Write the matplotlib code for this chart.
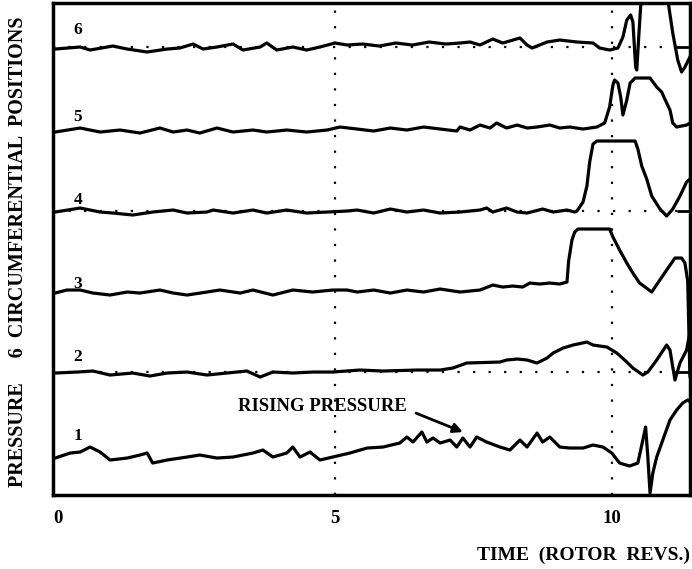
import matplotlib.pyplot as plt

plt.rcParams['font.family'] = ['Liberation Serif', 'DejaVu Serif']

# Pressure traces: time in rotor revs, pressure in
# arbitrary units relative to each trace's own baseline
rev1 = [-0.05, 0.22, 0.40, 0.58, 0.76, 0.94, 1.25, 1.48, 1.61, 1.71, 1.97, 2.33, 2.56, 2.87,
        3.16, 3.52, 3.70, 3.88, 4.13, 4.24, 4.37, 4.55, 4.73, 4.96, 5.27, 5.58, 5.87, 6.17,
        6.30, 6.41, 6.57, 6.66, 6.77, 6.90, 7.08, 7.20, 7.31, 7.44, 7.56, 7.74, 7.98, 8.16,
        8.34, 8.47, 8.65, 8.75, 8.88, 9.06, 9.24, 9.48, 9.66, 9.84, 10.00, 10.14, 10.32,
        10.47, 10.56, 10.61, 10.65, 10.69, 10.74, 10.81, 10.92, 11.05, 11.17, 11.28, 11.37, 11.44]
p1 = [-3, 2, 3, 8, 3, -5, -3, 0, 2, -8, -5, -2, 0, -3,
      -2, 2, 5, -2, 2, 8, -2, 3, -5, -2, 2, 7, 8, 12,
      18, 13, 23, 13, 17, 12, 15, 8, 17, 8, 18, 13, 8, 5,
      15, 8, 22, 13, 18, 8, 7, 7, 10, 8, 2, -8, -11,
      -8, 15, 28, -2, -38, -18, -2, 15, 35, 45, 52, 55, 52]

rev2 = [-0.05, 0.35, 0.63, 0.94, 1.35, 1.66, 1.97, 2.33, 2.69, 3.05, 3.41, 3.65, 3.88, 4.24,
        4.60, 4.96, 5.45, 5.87, 6.48, 6.90, 7.13, 7.38, 7.98, 8.10, 8.29, 8.47, 8.65, 8.83,
        8.94, 9.12, 9.30, 9.55, 9.66, 9.91, 10.09, 10.27, 10.38, 10.56, 10.65, 10.81, 10.99,
        11.05, 11.10, 11.14, 11.23, 11.35, 11.41]
p2 = [-1, 0, 1, -3, -1, -4, -1, 0, -3, -1, 1, -5, 0, -1,
      0, 0, 2, 1, 2, 2, 4, 9, 10, 12, 13, 12, 9, 14,
      19, 24, 27, 30, 27, 25, 19, 10, 4, -3, 0, 12, 27,
      22, 5, -8, 9, 22, 40]

rev3 = [-0.05, 0.16, 0.40, 0.63, 0.94, 1.25, 1.48, 1.84, 2.08, 2.33, 2.69, 2.92, 3.29, 3.52,
        3.88, 4.24, 4.60, 4.96, 5.22, 5.40, 5.70, 6.00, 6.30, 6.60, 6.90, 7.26, 7.62, 7.85,
        8.03, 8.21, 8.39, 8.52, 8.70, 8.88, 9.06, 9.19, 9.22, 9.28, 9.33, 9.39, 9.96, 10.02,
        10.14, 10.27, 10.38, 10.50, 10.60, 10.72, 10.83, 10.99, 11.14, 11.26, 11.32, 11.37, 11.41]
p3 = [-2, 1, 1, -2, -4, -1, -2, 1, -2, -4, -1, 1, -2, 1,
      -4, 1, -1, 1, 1, -1, 1, -2, 1, -1, 2, -1, 1, 6,
      4, 5, 4, 8, 7, 8, 7, 9, 30, 51, 59, 62, 62, 54,
      41, 28, 18, 8, 4, -1, 8, 21, 33, 33, 28, 10, -85]

rev4 = [-0.05, 0.40, 0.76, 0.99, 1.35, 1.71, 2.08, 2.33, 2.69, 2.80, 3.16, 3.52, 3.77, 4.13,
        4.49, 4.86, 5.22, 5.40, 5.70, 6.00, 6.30, 6.60, 6.90, 7.26, 7.62, 7.74, 7.85, 8.10,
        8.29, 8.47, 8.75, 8.94, 9.19, 9.33, 9.37, 9.48, 9.55, 9.60, 9.66, 9.73, 10.42, 10.47,
        10.54, 10.63, 10.72, 10.87, 10.99, 11.10, 11.23, 11.35, 11.41]
p4 = [-1, 3, -1, -2, -4, -1, 1, -2, -1, 1, -2, 1, -2, 1,
      -2, -1, 0, 1, -2, 2, -1, 1, -2, -1, 1, 3, -1, 3,
      -1, -2, 2, -1, 1, -1, 0, 9, 25, 49, 67, 70, 70, 62,
      45, 32, 15, 2, -5, 2, 15, 29, 32]

rev5 = [-0.05, 0.40, 0.76, 1.12, 1.48, 1.84, 2.08, 2.33, 2.56, 2.87, 3.16, 3.52, 3.77, 4.13,
        4.49, 4.86, 5.09, 5.40, 5.70, 6.00, 6.30, 6.60, 6.90, 7.20, 7.26, 7.44, 7.62, 7.80,
        7.92, 8.10, 8.29, 8.47, 8.65, 8.88, 9.06, 9.24, 9.48, 9.73, 9.87, 9.96, 10.02, 10.05,
        10.11, 10.16, 10.20, 10.27, 10.33, 10.42, 10.69, 10.81, 10.90, 10.94, 11.05, 11.10,
        11.17, 11.35, 11.44]
p5 = [-3, 1, -3, -1, -4, 1, -3, -1, -4, 1, -3, -1, -3, -1,
      -3, -1, 2, 0, -2, 1, -1, 2, 0, -2, 2, -1, 4, 1,
      6, 1, 4, 1, 2, 4, 1, 2, 0, 2, 6, 22, 44, 49,
      46, 32, 14, 29, 46, 51, 51, 42, 37, 32, 19, 6,
      2, 4, 7]

rev6 = [-0.05, 0.40, 0.58, 0.99, 1.25, 1.61, 1.97, 2.20, 2.44, 2.62, 2.87, 3.16, 3.34, 3.65,
        3.77, 3.95, 4.24, 4.49, 4.73, 5.00, 5.22, 5.50, 5.80, 6.10, 6.40, 6.70, 7.00, 7.26,
        7.44, 7.62, 7.85, 8.03, 8.34, 8.47, 8.56, 8.83, 9.06, 9.37, 9.66, 9.78, 9.96, 10.11,
        10.20, 10.27, 10.34, 10.38, 10.43, 10.45, 10.49, 10.52, 10.55, 11.01, 11.03, 11.10,
        11.19, 11.26, 11.32, 11.41]
p6 = [-2, 0, -3, 1, -2, -5, -2, -1, 3, -2, 0, 3, -3, 0,
      4, -3, 0, -3, 0, 4, 2, 3, 1, 4, 2, 5, 3, 4,
      5, 2, 8, 4, 9, 2, -1, 5, 7, 5, 4, -1, -3, -1,
      10, 27, 32, 25, -20, -23, 14, 40, 60, 60, 40, 14,
      -13, -25, -20, -10]

traces = [(rev1, p1), (rev2, p2), (rev3, p3), (rev4, p4), (rev5, p5), (rev6, p6)]
trace_labels = ['1', '2', '3', '4', '5', '6']
baselines = [40, 123, 204, 284, 366, 448]
label_lift = [19, 15, 7, 11, 12, 17]
x_ticks = [0, 5, 10]

fig = plt.figure(figsize=(6.92, 5.69), dpi=100)
ax = fig.add_axes([0.0766, 0.130, 0.9204, 0.8647])

# dotted guide lines
for xv in [5, 10]:
    ax.axvline(xv, color='black', lw=1.6, ls=(0, (1, 6)), zorder=1)
for i in [1, 3, 5]:
    ax.axhline(baselines[i], color='black', lw=1.6, ls=(0, (1, 6)), zorder=1)

for (rx, py), base, lab, lift in zip(traces, baselines, trace_labels, label_lift):
    ax.plot(rx, [base + v for v in py], color='black', lw=2.3, zorder=3)
    ax.text(0.36, base + lift, lab, fontsize=12.5, fontweight='bold', ha='center', va='center')

# short solid baseline stubs at the right edge
for i, start in [(1, 11.17), (3, 11.17), (5, 11.14)]:
    ax.hlines(baselines[i], start, 11.45, color='black', lw=2.0, zorder=2)

ax.annotate('RISING PRESSURE', xy=(7.31, 63), xytext=(3.25, 89),
            fontsize=13.5, fontweight='bold', ha='left', va='center',
            arrowprops=dict(arrowstyle='-|>', lw=2.0, color='black', mutation_scale=14,
                            shrinkA=5, shrinkB=0, relpos=(1.0, 0.3)))

ax.set_xlim(-0.09, 11.41)
ax.set_ylim(0, 492)
ax.set_xticks(x_ticks)
ax.set_xticklabels([str(t) for t in x_ticks], fontsize=13.5, fontweight='bold')
ax.set_yticks([])
ax.tick_params(axis='x', length=0, pad=11)
for s in ax.spines.values():
    s.set_linewidth(2.5)

fig.text(0.997, 0.0246, 'TIME  (ROTOR  REVS.)', fontsize=14, fontweight='bold',
         ha='right', va='center')
fig.text(0.026, 0.557, 'PRESSURE     6  CIRCUMFERENTIAL  POSITIONS', fontsize=14.5,
         fontweight='bold', rotation=90, ha='center', va='center')

fig.savefig('out.png', dpi=100)
